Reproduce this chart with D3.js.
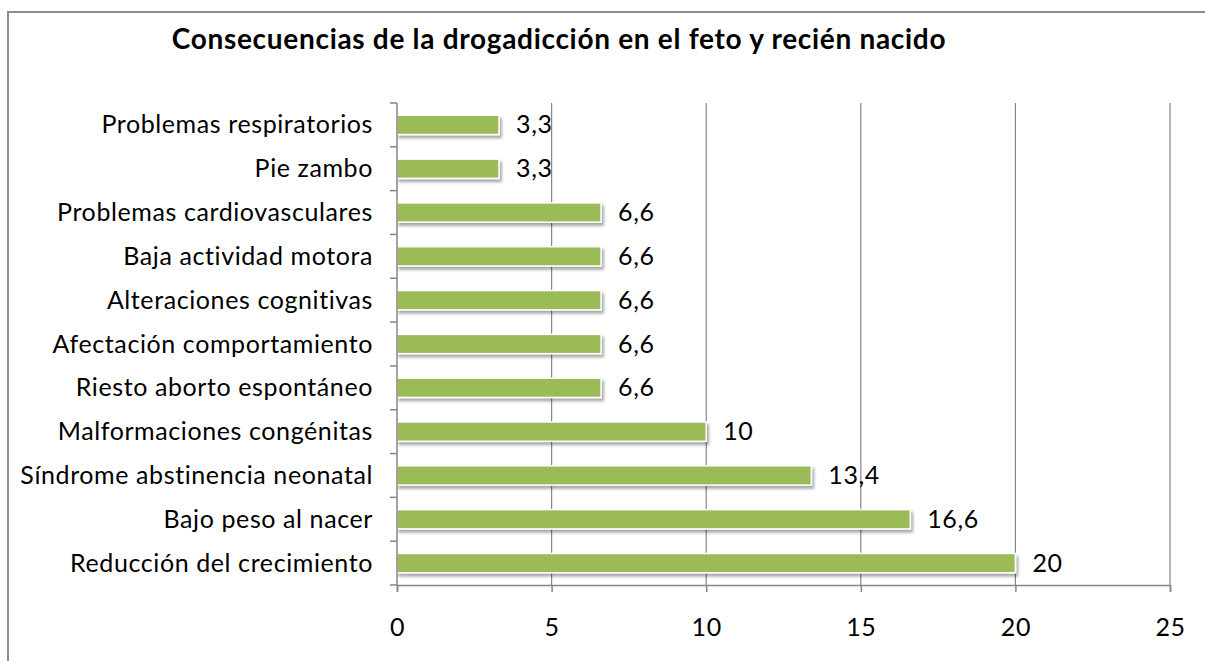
<!DOCTYPE html>
<html>
<head>
<meta charset="utf-8">
<title>Consecuencias de la drogadicción</title>
<script src="https://d3js.org/d3.v7.min.js"></script>
<style>
  body { margin: 0; background: #fff; }
  svg text { font-family: Lato, "Open Sans", sans-serif; fill: #000; }
</style>
</head>
<body>
<div id="container"></div>
<script>
// data, top to bottom as in the chart
var categories = ["Problemas respiratorios", "Pie zambo", "Problemas cardiovasculares",
                  "Baja actividad motora", "Alteraciones cognitivas", "Afectación comportamiento",
                  "Riesto aborto espontáneo", "Malformaciones congénitas",
                  "Síndrome abstinencia neonatal", "Bajo peso al nacer", "Reducción del crecimiento"];
var values = [3.3, 3.3, 6.6, 6.6, 6.6, 6.6, 6.6, 10, 13.4, 16.6, 20];
var xTicks = [0, 5, 10, 15, 20, 25];
var title = "Consecuencias de la drogadicción en el feto y recién nacido";

const width = 1205, height = 661,
      margin = { top: 103, bottom: 76, left: 397, right: 35 };

var svg = d3.select("#container").append("svg")
    .attr("width", width)
    .attr("height", height);

var defs = svg.append("defs");
var shadow = defs.append("filter").attr("id", "shadow")
    .attr("x", "-5%").attr("y", "-30%").attr("width", "110%").attr("height", "180%");
shadow.append("feDropShadow")
    .attr("dx", 2).attr("dy", 3).attr("stdDeviation", 1.6)
    .attr("flood-color", "#000").attr("flood-opacity", 0.35);

// outer frame (runs off the page right and bottom)
svg.append("rect")
    .attr("x", 8).attr("y", 12)
    .attr("width", width + 20).attr("height", height + 20)
    .attr("fill", "none").attr("stroke", "#8c8c8c").attr("stroke-width", 2);

svg.append("text")
    .attr("x", 559).attr("y", 49)
    .attr("text-anchor", "middle")
    .style("font-size", "28px").style("font-weight", "bold")
    .style("letter-spacing", "0.7px")
    .text(title);

var x = d3.scaleLinear().domain([0, 25]).range([margin.left, width - margin.right]);
var y = d3.scaleBand().domain(categories)
    .range([margin.top, height - margin.bottom]).paddingInner(0.56).paddingOuter(0.28);

// gridlines
svg.append("g").selectAll("line")
    .data(xTicks.slice(1))
    .enter().append("line")
    .attr("x1", d => x(d)).attr("x2", d => x(d))
    .attr("y1", margin.top).attr("y2", height - margin.bottom)
    .attr("stroke", "#868686").attr("stroke-width", 1.2);

// bars
svg.append("g").selectAll("rect")
    .data(values)
    .enter().append("rect")
    .attr("x", x(0))
    .attr("y", (d, i) => y(categories[i]))
    .attr("width", d => x(d) - x(0))
    .attr("height", y.bandwidth())
    .attr("fill", "#9bbb59")
    .attr("stroke", "#fff").attr("stroke-width", 1.5)
    .attr("filter", "url(#shadow)");

// value labels
svg.append("g").selectAll("text")
    .data(values)
    .enter().append("text")
    .attr("x", d => x(d) + 17)
    .attr("y", (d, i) => y(categories[i]) + y.bandwidth() / 2)
    .attr("dy", "0.34em")
    .style("font-size", "25px").style("letter-spacing", "0.6px")
    .text(d => String(d).replace(".", ","));

// x axis
var xAxis = svg.append("g")
    .attr("transform", `translate(0, ${height - margin.bottom})`)
    .call(d3.axisBottom(x).tickValues(xTicks).tickSize(7).tickPadding(26));
xAxis.select(".domain").attr("stroke", "#868686").attr("stroke-width", 1.5);
xAxis.selectAll(".tick line").attr("stroke", "#868686").attr("stroke-width", 1.5);
xAxis.selectAll(".tick text").style("font-size", "25px")
    .style("font-family", "Lato, sans-serif").style("letter-spacing", "0.6px");

// y axis: line plus ticks between categories
var yAxisG = svg.append("g");
yAxisG.append("line")
    .attr("x1", x(0)).attr("x2", x(0))
    .attr("y1", margin.top).attr("y2", height - margin.bottom)
    .attr("stroke", "#868686").attr("stroke-width", 1.5);
yAxisG.selectAll(".ytick")
    .data(d3.range(categories.length + 1))
    .enter().append("line")
    .attr("x1", x(0) - 7).attr("x2", x(0))
    .attr("y1", i => margin.top + i * y.step())
    .attr("y2", i => margin.top + i * y.step())
    .attr("stroke", "#868686").attr("stroke-width", 1.5);

yAxisG.selectAll(".ylabel")
    .data(categories)
    .enter().append("text")
    .attr("x", x(0) - 24)
    .attr("y", d => y(d) + y.bandwidth() / 2)
    .attr("dy", "0.34em")
    .attr("text-anchor", "end")
    .style("font-size", "25px").style("letter-spacing", "0.6px")
    .text(d => d);
</script>
</body>
</html>
